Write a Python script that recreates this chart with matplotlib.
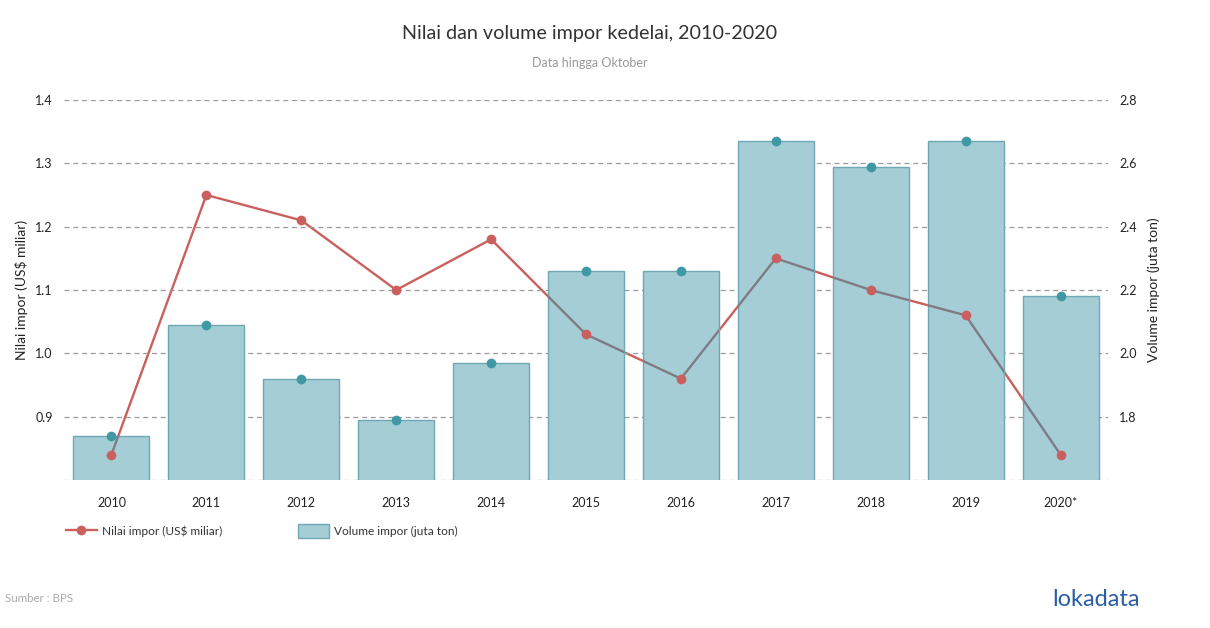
import matplotlib
matplotlib.use("Agg")
import matplotlib.pyplot as plt
from matplotlib.lines import Line2D
from matplotlib.patches import Patch

plt.rcParams['font.family'] = ['Lato', 'DejaVu Sans']

years = ["2010", "2011", "2012", "2013", "2014", "2015", "2016", "2017", "2018", "2019", "2020*"]
nilai = [0.84, 1.25, 1.21, 1.10, 1.18, 1.03, 0.96, 1.15, 1.10, 1.06, 0.84]
volume = [1.74, 2.09, 1.92, 1.79, 1.97, 2.26, 2.26, 2.67, 2.59, 2.67, 2.18]
left_ticks = [0.8, 0.9, 1.0, 1.1, 1.2, 1.3, 1.4]
left_labels = ["", "0.9", "1.0", "1.1", "1.2", "1.3", "1.4"]
right_ticks = [1.6, 1.8, 2.0, 2.2, 2.4, 2.6, 2.8]
right_labels = ["", "1.8", "2.0", "2.2", "2.4", "2.6", "2.8"]

RED = "#c9605e"
GRAYLINE = "#7f7b84"
BAR = "#a5cdd5"
BAREDGE = "#6fa8b2"
TEAL = "#3f98a4"
GRID = "#9a9a9a"

fig = plt.figure(figsize=(12.10, 6.28), dpi=100)
ax = fig.add_axes([64/1210, 1 - 480/628, (1108 - 64)/1210, 380/628])
ax2 = ax.twinx()

x = list(range(len(years)))

ax.set_zorder(1)
ax2.set_zorder(2)
ax.patch.set_visible(False)
ax2.patch.set_visible(False)

ax.plot(x, nilai, color=RED, lw=1.7, zorder=2, solid_capstyle='round')
ax.set_ylim(0.8, 1.4)
ax.set_xlim(-0.5, len(years) - 0.5)

bars = ax2.bar(x, volume, width=0.8, bottom=0, color=BAR, edgecolor=BAREDGE, linewidth=1, zorder=2)
ax2.set_ylim(1.6, 2.8)

# map the left-axis values onto the right axis scale
nilai_on_right = [1.6 + (v - 0.8) * 2 for v in nilai]

# line segments seen through bars appear grey
for b in bars:
    ln, = ax2.plot(x, nilai_on_right, color=GRAYLINE, lw=1.7, zorder=3)
    ln.set_clip_path(b)

ax2.plot(x, nilai_on_right, 'o', color=RED, ms=7, zorder=5, mec='none')
ax2.plot(x, volume, 'o', color=TEAL, ms=7, zorder=5, mec='none')

for t in right_ticks:
    ax2.axhline(t, color=GRID, lw=0.9, ls=(0, (4, 3)), zorder=1.5)

ax.set_yticks(left_ticks)
ax.set_yticklabels(left_labels)
ax2.set_yticks(right_ticks)
ax2.set_yticklabels(right_labels)
ax.set_xticks(x)
ax.set_xticklabels(years)

for a in (ax, ax2):
    for s in a.spines.values():
        s.set_visible(False)
    a.tick_params(length=0, labelsize=9, colors="#222222")
ax.tick_params(axis='y', pad=8)
ax2.tick_params(axis='y', pad=8)
ax.tick_params(axis='x', pad=12)

ax.set_ylabel("Nilai impor (US$ miliar)", fontsize=10, color="#222222", labelpad=5)
ax2.set_ylabel("Volume impor (juta ton)", fontsize=10, color="#222222", labelpad=8)

fig.text(590/1210, 1 - 33/628, "Nilai dan volume impor kedelai, 2010-2020", ha='center', va='center',
         fontsize=14.2, color="#333333")
fig.text(590/1210, 1 - 63/628, "Data hingga Oktober", ha='center', va='center', fontsize=9, color="#999999")

handles = [Line2D([0], [0], color=RED, lw=1.7, marker='o', ms=7, mec='none'),
           Patch(facecolor=BAR, edgecolor=BAREDGE)]
leg = fig.legend(handles, ["Nilai impor (US$ miliar)", "Volume impor (juta ton)"],
                 loc='center left', bbox_to_anchor=(55/1210, 1 - 531/628), ncol=2, frameon=False,
                 fontsize=8.6, handlelength=2.6, handleheight=1.3, columnspacing=6.4, handletextpad=0.4)
for t in leg.get_texts():
    t.set_color("#333333")

fig.text(5/1210, 1 - 598/628, "Sumber : BPS", ha='left', va='center', fontsize=8.3, color="#aaaaaa")
fig.text(1140/1210, 1 - 600/628, "lokadata", ha='right', va='center', fontsize=17, color="#2a5ea8")

fig.savefig("out.png", dpi=100)
